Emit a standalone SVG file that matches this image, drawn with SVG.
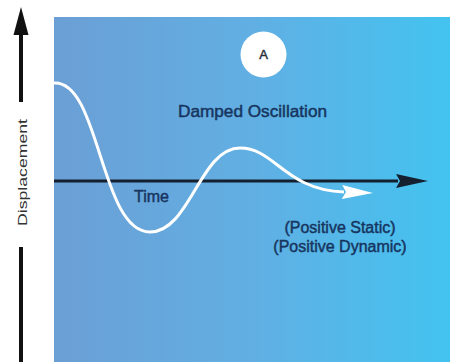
<svg xmlns="http://www.w3.org/2000/svg" width="452" height="362" viewBox="0 0 452 362">
  <style>
    .lbl { font-family: "Liberation Sans", Arial, sans-serif; fill: #17355f; stroke: #17355f; stroke-width: 0.45; }
    .axis { stroke: #14202f; stroke-width: 3; fill: none; }
    .yaxis { stroke: #111; stroke-width: 4; fill: none; }
    .curve { stroke: #ffffff; stroke-width: 3; fill: none; }
  </style>
  <defs>
    <linearGradient id="bg" x1="0" y1="0" x2="1" y2="0">
      <stop offset="0" stop-color="#6b9fd5"/>
      <stop offset="0.5" stop-color="#61afe3"/>
      <stop offset="1" stop-color="#43c3f0"/>
    </linearGradient>
    <marker id="ahDark" markerUnits="userSpaceOnUse" markerWidth="34" markerHeight="16" refX="2" refY="8" orient="auto">
      <polygon points="0,1 32,8 0,15 4,8" fill="#14202f"/>
    </marker>
    <marker id="ahWhite" markerUnits="userSpaceOnUse" markerWidth="34" markerHeight="16" refX="2" refY="8" orient="auto">
      <polygon points="0,1 31,8 0,15 4,8" fill="#ffffff"/>
    </marker>
  </defs>

  <rect x="0" y="0" width="452" height="362" fill="#ffffff"/>
  <g id="panel">
    <rect x="54" y="17" width="396" height="345" fill="url(#bg)"/>
  </g>

  <g id="connectors">
    <!-- Y axis -->
    <line class="yaxis" x1="21" y1="102" x2="21" y2="32"/>
    <polygon points="21,7 13.5,35 28.5,35" fill="#111"/>
    <line class="yaxis" x1="21" y1="247" x2="21" y2="362"/>
    <!-- Time axis -->
    <line class="axis" x1="54" y1="181" x2="398" y2="181" marker-end="url(#ahDark)"/>
    <!-- Damped oscillation curve -->
    <path class="curve" d="M54,83 C100,80 100,232 150,232 C190,232 200,148 240,148 C275,148 285,190 344,192" marker-end="url(#ahWhite)"/>
  </g>

  <g id="node-A">
    <circle cx="263.5" cy="54.5" r="23" fill="#ffffff"/>
    <text class="lbl" x="263.5" y="59" font-size="13" text-anchor="middle" style="fill:#2a2f3a;stroke:#2a2f3a">A</text>
  </g>

  <g id="label-damped">
    <text class="lbl" x="252.5" y="117" font-size="16" text-anchor="middle" textLength="149" lengthAdjust="spacingAndGlyphs">Damped Oscillation</text>
  </g>

  <g id="label-time">
    <text class="lbl" x="151.5" y="202" font-size="16" text-anchor="middle">Time</text>
  </g>

  <g id="label-positive">
    <text class="lbl" x="340" y="233" font-size="16" text-anchor="middle">(Positive Static)</text>
    <text class="lbl" x="340" y="252" font-size="16" text-anchor="middle">(Positive Dynamic)</text>
  </g>

  <g id="label-displacement">
    <text class="lbl" x="0" y="0" font-size="13" text-anchor="middle" style="fill:#333;stroke:none" textLength="107" lengthAdjust="spacingAndGlyphs" transform="translate(26.5,172.5) rotate(-90)">Displacement</text>
  </g>
</svg>
